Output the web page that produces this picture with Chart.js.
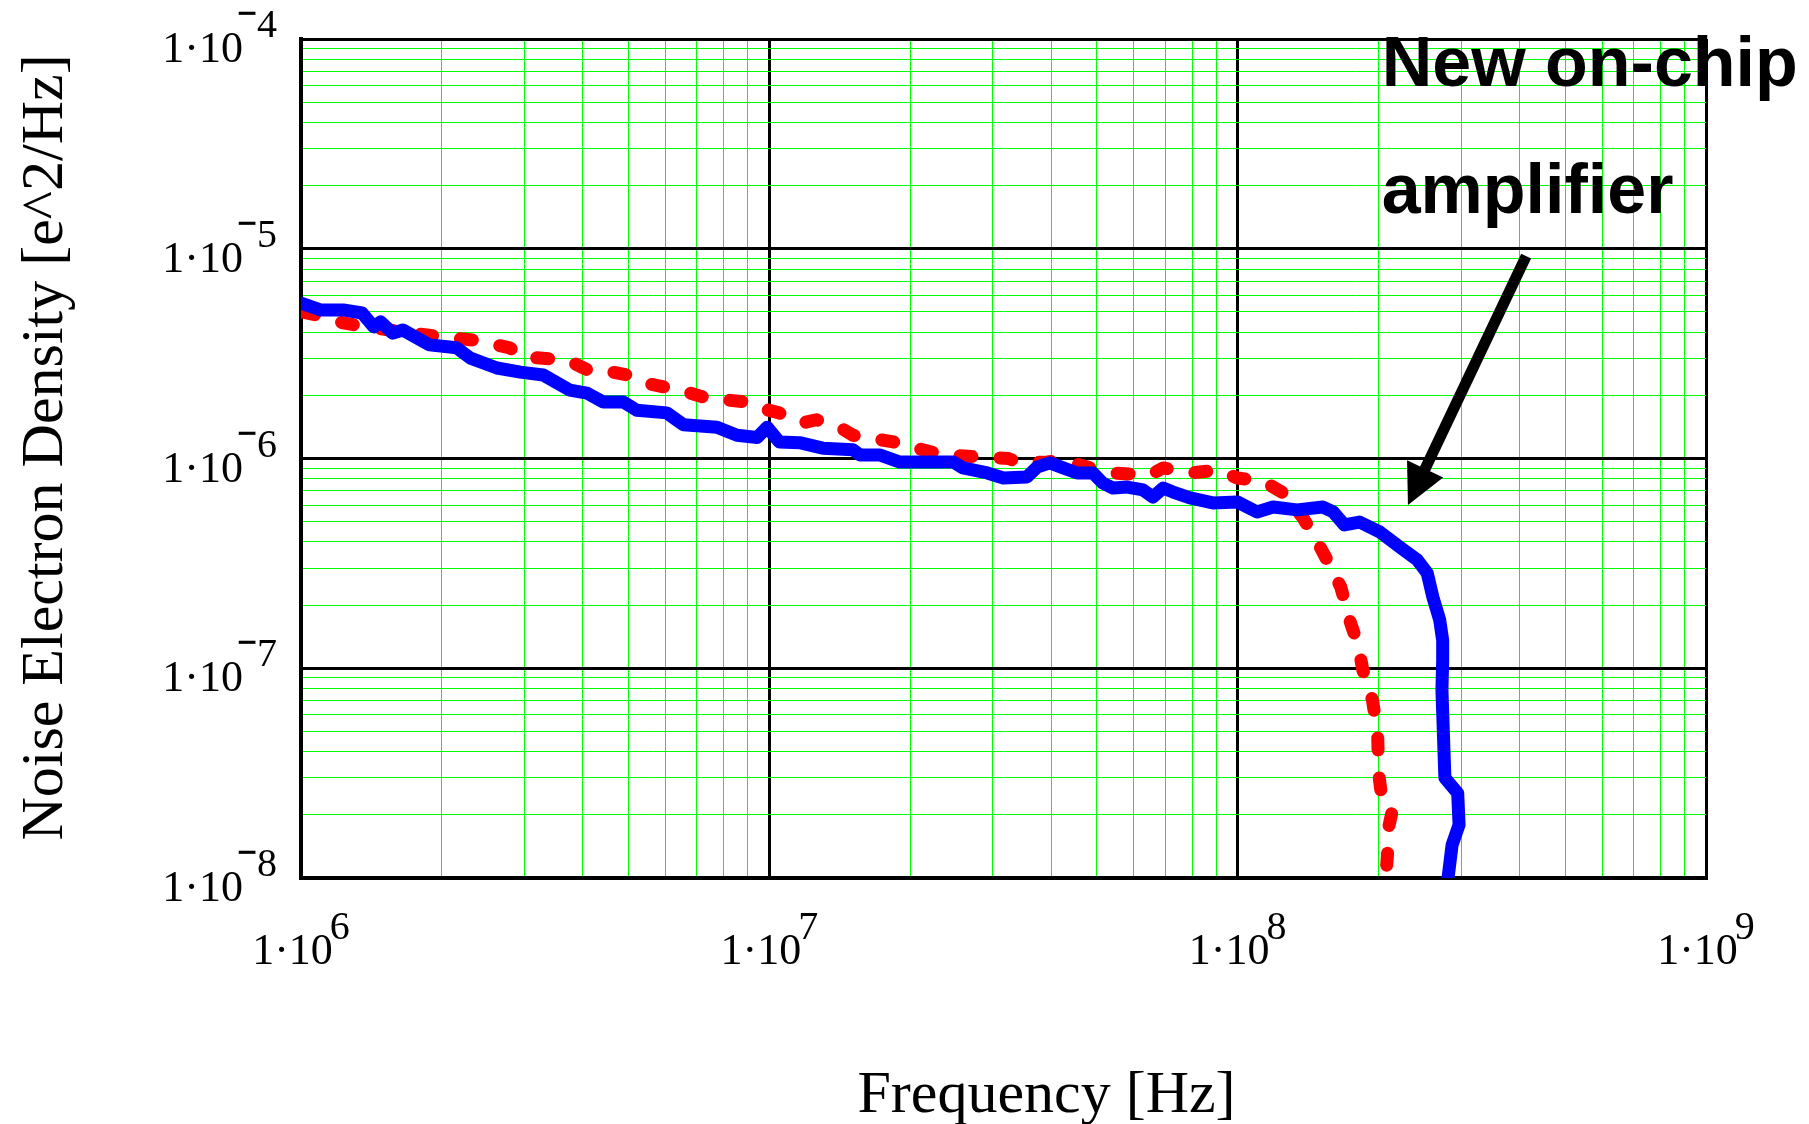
<!DOCTYPE html>
<html>
<head>
<meta charset="utf-8">
<script src="https://cdn.jsdelivr.net/npm/chart.js@4"></script>
<style>
  html, body { margin: 0; padding: 0; background: #fff; }
  #wrap { width: 1809px; height: 1124px; position: relative; }
</style>
</head>
<body>
<div id="wrap"><canvas id="noiseChart"></canvas></div>
<script>
// new on-chip amplifier (blue, solid)
const onChipFreq = [1.00e6, 1.10e6, 1.23e6, 1.35e6, 1.43e6, 1.48e6, 1.57e6, 1.65e6, 1.88e6, 2.15e6,
  2.30e6, 2.62e6, 2.94e6, 3.29e6, 3.75e6, 4.08e6, 4.42e6, 4.88e6, 5.21e6, 6.04e6,
  6.55e6, 7.73e6, 8.53e6, 9.42e6, 9.89e6, 1.05e7, 1.16e7, 1.30e7, 1.51e7, 1.56e7,
  1.72e7, 1.90e7, 2.47e7, 2.59e7, 2.92e7, 3.16e7, 3.55e7, 3.73e7, 3.97e7, 4.24e7,
  4.54e7, 4.91e7, 5.15e7, 5.42e7, 5.81e7, 6.28e7, 6.59e7, 6.93e7, 7.28e7, 7.91e7,
  8.85e7, 9.98e7, 1.10e8, 1.19e8, 1.34e8, 1.52e8, 1.60e8, 1.69e8, 1.82e8, 2.01e8,
  2.22e8, 2.42e8, 2.54e8, 2.61e8, 2.70e8, 2.74e8, 2.74e8, 2.73e8, 2.77e8, 2.95e8,
  2.97e8, 2.87e8, 2.81e8];
const onChipNoise = [5.51e-6, 5.11e-6, 5.11e-6, 4.94e-6, 4.24e-6, 4.48e-6, 3.96e-6, 4.10e-6, 3.48e-6, 3.37e-6,
  3.01e-6, 2.70e-6, 2.58e-6, 2.50e-6, 2.12e-6, 2.05e-6, 1.86e-6, 1.86e-6, 1.70e-6, 1.65e-6,
  1.45e-6, 1.41e-6, 1.29e-6, 1.26e-6, 1.41e-6, 1.20e-6, 1.19e-6, 1.12e-6, 1.10e-6, 1.04e-6,
  1.04e-6, 9.62e-7, 9.62e-7, 9.02e-7, 8.53e-7, 8.07e-7, 8.17e-7, 9.10e-7, 9.53e-7, 9.02e-7,
  8.53e-7, 8.53e-7, 7.64e-7, 7.23e-7, 7.31e-7, 7.08e-7, 6.55e-7, 7.23e-7, 6.92e-7, 6.49e-7,
  6.14e-7, 6.21e-7, 5.56e-7, 5.87e-7, 5.69e-7, 5.87e-7, 5.56e-7, 4.82e-7, 4.98e-7, 4.47e-7,
  3.78e-7, 3.28e-7, 2.84e-7, 2.19e-7, 1.70e-7, 1.36e-7, 1.09e-7, 7.87e-8, 3.00e-8, 2.54e-8,
  1.79e-8, 1.44e-8, 9.8e-9];

// reference amplifier (red, dashed)
const refFreq = [1.01e6, 1.15e6, 1.23e6, 1.38e6, 1.73e6, 2.01e6, 2.33e6, 2.79e6, 2.98e6, 3.70e6,
  4.14e6, 4.50e6, 4.99e6, 5.43e6, 6.55e6, 7.36e6, 8.95e6, 9.55e6, 1.05e7, 1.18e7,
  1.26e7, 1.42e7, 1.51e7, 1.84e7, 2.00e7, 2.35e7, 3.24e7, 3.43e7, 3.92e7, 4.24e7,
  4.84e7, 5.33e7, 6.50e7, 6.93e7, 7.91e7, 9.16e7, 9.98e7, 1.12e8, 1.17e8, 1.25e8,
  1.38e8, 1.46e8, 1.56e8, 1.66e8, 1.74e8, 1.81e8, 1.85e8, 1.94e8, 1.99e8, 2.00e8,
  2.03e8, 2.14e8, 2.08e8, 2.09e8, 2.07e8];
const refNoise = [4.99e-6, 4.68e-6, 4.43e-6, 4.24e-6, 3.96e-6, 3.79e-6, 3.67e-6, 3.37e-6, 3.05e-6, 2.95e-6,
  2.61e-6, 2.61e-6, 2.50e-6, 2.29e-6, 2.10e-6, 1.94e-6, 1.86e-6, 1.74e-6, 1.65e-6, 1.48e-6,
  1.53e-6, 1.40e-6, 1.29e-6, 1.20e-6, 1.14e-6, 1.04e-6, 1.00e-6, 9.53e-7, 9.62e-7, 9.84e-7,
  9.02e-7, 8.53e-7, 8.34e-7, 9.02e-7, 8.53e-7, 8.81e-7, 8.07e-7, 7.82e-7, 7.48e-7, 6.86e-7,
  5.20e-7, 4.23e-7, 3.21e-7, 2.44e-7, 1.66e-7, 1.28e-7, 9.82e-8, 7.06e-8, 4.91e-8, 3.17e-8,
  2.43e-8, 2.11e-8, 1.57e-8, 1.32e-8, 9.8e-9];

// axis decades (tick labels are 1·10^n) and minor grid steps
const xExponents = [6, 7, 8, 9];
const yExponents = [-8, -7, -6, -5, -4];
const minorSteps = [2, 3, 4, 5, 6, 7, 8, 9];

const xTitle = 'Frequency [Hz]';
const yTitle = 'Noise Electron Density [e^2/Hz]';
const noteLines = ['New on-chip', 'amplifier'];
const noteAt = { x: 2.03e8, y: [5.97e-5, 1.48e-5] };
const arrowFrom = { x: 4.13e8, y: 9.23e-6 };
const arrowTo = { x: 2.31e8, y: 6.0e-7 };

const serif = '"Liberation Serif", "Times New Roman", serif';
const sans = '"Liberation Sans", Arial, sans-serif';

function logTicks(exps) {
  const ticks = [];
  exps.forEach((e, i) => {
    const base = Math.pow(10, e);
    ticks.push({ value: base, major: true });
    if (i < exps.length - 1) {
      minorSteps.forEach(m => ticks.push({ value: m * base, major: false }));
    }
  });
  return ticks;
}

function toPoints(xs, ys) {
  return xs.map((x, i) => ({ x: x, y: ys[i] }));
}

// heavy minus sign stretched to a given box (ink centred at cx, cy)
function drawMinus(ctx, cx, cy, w, h) {
  ctx.save();
  ctx.font = 'bold 36px ' + serif;
  const m = ctx.measureText('−');
  const inkW = (m.actualBoundingBoxLeft + m.actualBoundingBoxRight) || 18;
  const inkH = (m.actualBoundingBoxAscent + m.actualBoundingBoxDescent) || 3;
  const midX = (m.actualBoundingBoxRight - m.actualBoundingBoxLeft) / 2;
  const midY = (m.actualBoundingBoxDescent - m.actualBoundingBoxAscent) / 2;
  ctx.translate(cx, cy);
  ctx.scale(w / inkW, h / inkH);
  ctx.textAlign = 'left';
  ctx.textBaseline = 'alphabetic';
  ctx.fillText('−', -midX, -midY);
  ctx.restore();
}

// "1·10" with a raised exponent, the way the original plot prints it
function drawPower(ctx, x, baseline, exp, align) {
  const digits = String(Math.abs(exp));
  ctx.font = '44px ' + serif;
  const baseW = ctx.measureText('1·10').width;
  ctx.font = '40px ' + serif;
  const expW = ctx.measureText(digits).width;
  const gap = exp < 0 ? 14 : -3;
  const left = align === 'right' ? x - baseW : x - (baseW + gap + expW) / 2;
  ctx.textAlign = 'left';
  ctx.textBaseline = 'alphabetic';
  ctx.font = '44px ' + serif;
  ctx.fillText('1·10', left, baseline);
  const ex = left + baseW + gap;
  ctx.font = '40px ' + serif;
  ctx.fillText(digits, ex, baseline - 25);
  if (exp < 0) {
    drawMinus(ctx, ex - 10, baseline - 49, 18, 5);
  }
}

const decorations = {
  id: 'decorations',
  afterDraw(chart) {
    const { ctx, chartArea: area } = chart;
    const xs = chart.scales.x, ys = chart.scales.y;
    ctx.save();
    ctx.fillStyle = '#000';

    yExponents.forEach(e => {
      drawPower(ctx, area.left - 58, ys.getPixelForValue(Math.pow(10, e)) + 23, e, 'right');
    });
    xExponents.forEach(e => {
      drawPower(ctx, xs.getPixelForValue(Math.pow(10, e)), area.bottom + 86, e, 'center');
    });

    // axis titles
    ctx.font = '60px ' + serif;
    ctx.textAlign = 'center';
    ctx.fillText(xTitle, (area.left + area.right) / 2 + 43, area.bottom + 234);
    ctx.save();
    ctx.translate(area.left - 239, (area.top + area.bottom) / 2 - 11);
    ctx.rotate(-Math.PI / 2);
    ctx.fillText(yTitle, 0, 0);
    ctx.restore();

    // annotation
    ctx.font = 'bold 70px ' + sans;
    ctx.textAlign = 'left';
    noteLines.forEach((t, i) => {
      ctx.fillText(t, xs.getPixelForValue(noteAt.x), ys.getPixelForValue(noteAt.y[i]));
    });

    const x0 = xs.getPixelForValue(arrowFrom.x), y0 = ys.getPixelForValue(arrowFrom.y);
    const x1 = xs.getPixelForValue(arrowTo.x), y1 = ys.getPixelForValue(arrowTo.y);
    const ang = Math.atan2(y1 - y0, x1 - x0);
    const headLen = 40, headHalf = 20;
    const bx = x1 - headLen * Math.cos(ang), by = y1 - headLen * Math.sin(ang);
    ctx.strokeStyle = '#000';
    ctx.lineWidth = 11;
    ctx.lineCap = 'butt';
    ctx.beginPath();
    ctx.moveTo(x0, y0);
    ctx.lineTo(bx + 2 * Math.cos(ang), by + 2 * Math.sin(ang));
    ctx.stroke();
    ctx.beginPath();
    ctx.moveTo(x1, y1);
    ctx.lineTo(bx + headHalf * Math.sin(ang), by - headHalf * Math.cos(ang));
    ctx.lineTo(bx - headHalf * Math.sin(ang), by + headHalf * Math.cos(ang));
    ctx.closePath();
    ctx.fill();
    ctx.restore();
  }
};

const gridStyle = {
  drawTicks: false,
  color: c => (c.tick && c.tick.major ? '#000000' : '#00ff00'),
  lineWidth: c => (c.tick && c.tick.major ? 3 : 1)
};

new Chart(document.getElementById('noiseChart'), {
  type: 'line',
  data: {
    datasets: [{
      label: 'New on-chip amplifier',
      data: toPoints(onChipFreq, onChipNoise),
      borderColor: '#0000ff',
      borderWidth: 13,
      borderJoinStyle: 'round',
      borderCapStyle: 'round',
      pointRadius: 0,
      tension: 0,
      fill: false
    }, {
      label: 'Reference',
      data: toPoints(refFreq, refNoise),
      borderColor: '#ff0000',
      borderWidth: 13,
      borderDash: [12, 28],
      borderJoinStyle: 'round',
      borderCapStyle: 'round',
      pointRadius: 0,
      tension: 0,
      fill: false
    }]
  },
  options: {
    responsive: true,
    maintainAspectRatio: false,
    animation: false,
    events: [],
    layout: { padding: { left: 301, right: 103, top: 39, bottom: 246 } },
    plugins: { legend: { display: false }, tooltip: { enabled: false } },
    scales: {
      x: {
        type: 'logarithmic',
        min: 1e6,
        max: 1e9,
        afterBuildTicks: s => { s.ticks = logTicks(xExponents); },
        ticks: { display: false },
        grid: gridStyle,
        border: { display: true, color: '#000', width: 4 }
      },
      y: {
        type: 'logarithmic',
        min: 1e-8,
        max: 1e-4,
        afterBuildTicks: s => { s.ticks = logTicks(yExponents); },
        ticks: { display: false },
        grid: gridStyle,
        border: { display: true, color: '#000', width: 4 }
      }
    }
  },
  plugins: [decorations]
});
</script>
</body>
</html>
